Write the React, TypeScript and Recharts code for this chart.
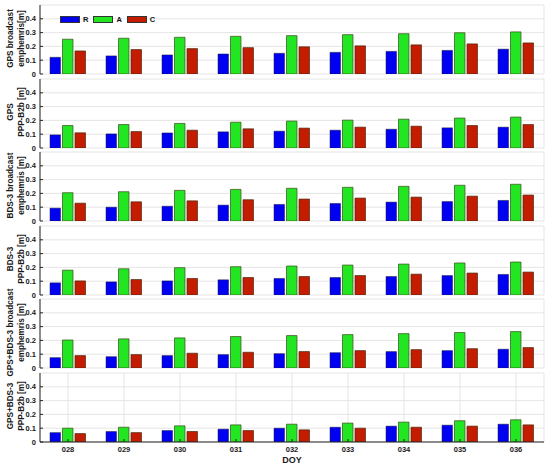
import React from "react";
import { BarChart, Bar, XAxis, YAxis, CartesianGrid, Legend } from "recharts";

const days = ["028", "029", "030", "031", "032", "033", "034", "035", "036"];
const yTicks = [0, 0.1, 0.2, 0.3, 0.4];
const seriesOrder = ["R", "A", "C"];

// GPS broadcast ephemeris
const gpsBrdcR = [0.121, 0.131, 0.138, 0.145, 0.15, 0.157, 0.164, 0.171, 0.18];
const gpsBrdcA = [0.252, 0.259, 0.266, 0.273, 0.278, 0.285, 0.292, 0.299, 0.305];
const gpsBrdcC = [0.167, 0.177, 0.184, 0.191, 0.197, 0.204, 0.211, 0.218, 0.225];
// GPS PPP-B2b
const gpsB2bR = [0.095, 0.102, 0.109, 0.117, 0.122, 0.129, 0.136, 0.146, 0.151];
const gpsB2bA = [0.163, 0.17, 0.178, 0.187, 0.195, 0.202, 0.209, 0.217, 0.224];
const gpsB2bC = [0.11, 0.119, 0.129, 0.139, 0.144, 0.151, 0.158, 0.163, 0.17];
// BDS-3 broadcast ephemeris
const bdsBrdcR = [0.093, 0.1, 0.107, 0.115, 0.12, 0.127, 0.137, 0.141, 0.149];
const bdsBrdcA = [0.205, 0.212, 0.222, 0.229, 0.237, 0.244, 0.251, 0.259, 0.266];
const bdsBrdcC = [0.129, 0.139, 0.146, 0.154, 0.159, 0.166, 0.173, 0.18, 0.188];
// BDS-3 PPP-B2b
const bdsB2bR = [0.088, 0.095, 0.102, 0.11, 0.12, 0.127, 0.134, 0.141, 0.149];
const bdsB2bA = [0.18, 0.19, 0.198, 0.205, 0.21, 0.217, 0.224, 0.232, 0.239];
const bdsB2bC = [0.102, 0.112, 0.12, 0.127, 0.134, 0.141, 0.151, 0.159, 0.166];
// GPS+BDS-3 broadcast ephemeris
const combBrdcR = [0.075, 0.082, 0.09, 0.097, 0.104, 0.111, 0.119, 0.126, 0.136];
const combBrdcA = [0.203, 0.211, 0.218, 0.228, 0.235, 0.242, 0.249, 0.257, 0.264];
const combBrdcC = [0.09, 0.097, 0.107, 0.114, 0.119, 0.126, 0.133, 0.14, 0.148];
// GPS+BDS-3 PPP-B2b
const combB2bR = [0.068, 0.076, 0.083, 0.093, 0.1, 0.107, 0.115, 0.122, 0.129];
const combB2bA = [0.1, 0.107, 0.117, 0.124, 0.129, 0.137, 0.144, 0.154, 0.161];
const combB2bC = [0.061, 0.068, 0.076, 0.083, 0.088, 0.1, 0.107, 0.115, 0.124];

const panels = [
  { lines: ["GPS broadcast", "emphemris[m]"], r: gpsBrdcR, a: gpsBrdcA, c: gpsBrdcC },
  { lines: ["GPS", "PPP-B2b [m]"], r: gpsB2bR, a: gpsB2bA, c: gpsB2bC },
  { lines: ["BDS-3 broadcast", "emphemris [m]"], r: bdsBrdcR, a: bdsBrdcA, c: bdsBrdcC },
  { lines: ["BDS-3", "PPP-B2b [m]"], r: bdsB2bR, a: bdsB2bA, c: bdsB2bC },
  { lines: ["GPS+BDS-3 broadcast", "emphemris [m]"], r: combBrdcR, a: combBrdcA, c: combBrdcC },
  { lines: ["GPS+BDS-3", "PPP-B2b [m]"], r: combB2bR, a: combB2bA, c: combB2bC },
];

const BLUE = "#0000f0";
const GREEN = "#22e622";
const RED = "#c41c00";
const AXIS = "#262626";
const FONT = "'Liberation Sans', Arial, sans-serif";

const PANEL_H = 69;
const PANEL_STEP = 73.5;
const FIRST_TOP = 5;

const tickStyle = { fontSize: 7.5, fontWeight: 700, fill: "#1a1a1a", fontFamily: FONT };
const fmt = (v: number) => (v === 0 ? "0" : v.toFixed(1));

function LegendBox({ payload }: any) {
  const items = [...(payload || [])].sort(
    (x: any, y: any) => seriesOrder.indexOf(x.value) - seriesOrder.indexOf(y.value)
  );
  return (
    <div style={{ display: "flex", alignItems: "center", fontFamily: FONT, fontSize: 7.5, fontWeight: 700 }}>
      {items.map((p: any) => (
        <div key={p.value} style={{ display: "flex", alignItems: "center", marginRight: 5 }}>
          <div style={{ width: 18, height: 5, background: p.color, border: "0.8px solid #333" }} />
          <span style={{ marginLeft: 3, color: "#111" }}>{p.value}</span>
        </div>
      ))}
    </div>
  );
}

function Panel({ idx }: { idx: number }) {
  const p = panels[idx];
  const last = idx === panels.length - 1;
  const rows = days.map((d, i) => ({ doy: d, R: p.r[i], A: p.a[i], C: p.c[i] }));
  const top = FIRST_TOP + idx * PANEL_STEP;
  const bottomH = last ? 26 : 0;
  const bottomM = last ? 0 : 6;
  const height = PANEL_H + 2 + bottomH + bottomM;
  return (
    <div style={{ position: "absolute", left: 0, top: top - 2 }}>
      <BarChart
        width={550}
        height={height}
        data={rows}
        margin={{ top: 2, right: 6, bottom: bottomM, left: 0 }}
        barSize={10.5}
        barGap={2}
      >
        <CartesianGrid stroke="#dedede" strokeWidth={0.8} />
        <XAxis
          dataKey="doy"
          height={bottomH}
          stroke={AXIS}
          tickSize={-3}
          tickMargin={8}
          tick={last ? tickStyle : false}
          interval={0}
          label={
            last
              ? { value: "DOY", position: "insideBottom", offset: 5, style: { fontSize: 9, fontWeight: 700, fill: "#1a1a1a", fontFamily: FONT } }
              : undefined
          }
        />
        <XAxis xAxisId="top" orientation="top" dataKey="doy" height={0} stroke={AXIS} tickSize={-3} tick={false} interval={0} />
        <YAxis
          width={40}
          domain={[0, 0.5]}
          ticks={yTicks}
          interval={0}
          tickFormatter={fmt}
          tick={tickStyle}
          tickSize={-3}
          tickMargin={7}
          stroke={AXIS}
          allowDataOverflow
        />
        <YAxis
          yAxisId="right"
          orientation="right"
          width={0}
          domain={[0, 0.5]}
          ticks={yTicks}
          interval={0}
          tick={false}
          tickSize={-3}
          stroke={AXIS}
        />
        {idx === 0 && (
          <Legend
            verticalAlign="middle"
            align="center"
            layout="horizontal"
            content={<LegendBox />}
            wrapperStyle={{ top: 12, left: 60, width: "auto", height: "auto" }}
          />
        )}
        <Bar dataKey="R" name="R" fill={BLUE} stroke="#1a1a40" strokeWidth={0.5} isAnimationActive={false} />
        <Bar dataKey="A" name="A" fill={GREEN} stroke="#3a4a1a" strokeWidth={0.7} isAnimationActive={false} />
        <Bar dataKey="C" name="C" fill={RED} stroke="#4a2a10" strokeWidth={0.7} isAnimationActive={false} />
      </BarChart>
    </div>
  );
}

export default function App() {
  return (
    <div style={{ position: "absolute", left: 0, top: 0, width: 550, height: 467, background: "#fff" }}>
      {panels.map((_, i) => (
        <Panel key={i} idx={i} />
      ))}
      <svg width={550} height={467} style={{ position: "absolute", left: 0, top: 0, pointerEvents: "none" }}>
        {panels.map((p, i) => {
          const cy = FIRST_TOP + i * PANEL_STEP + PANEL_H / 2 - 1;
          return (
            <g key={i} fontFamily={FONT} fontSize={8.2} fontWeight={700} fill="#1a1a1a" textAnchor="middle">
              <text x={10} y={cy} dominantBaseline="central" transform={`rotate(-90 10 ${cy})`}>
                {p.lines[0]}
              </text>
              <text x={21} y={cy} dominantBaseline="central" transform={`rotate(-90 21 ${cy})`}>
                {p.lines[1]}
              </text>
            </g>
          );
        })}
      </svg>
    </div>
  );
}
